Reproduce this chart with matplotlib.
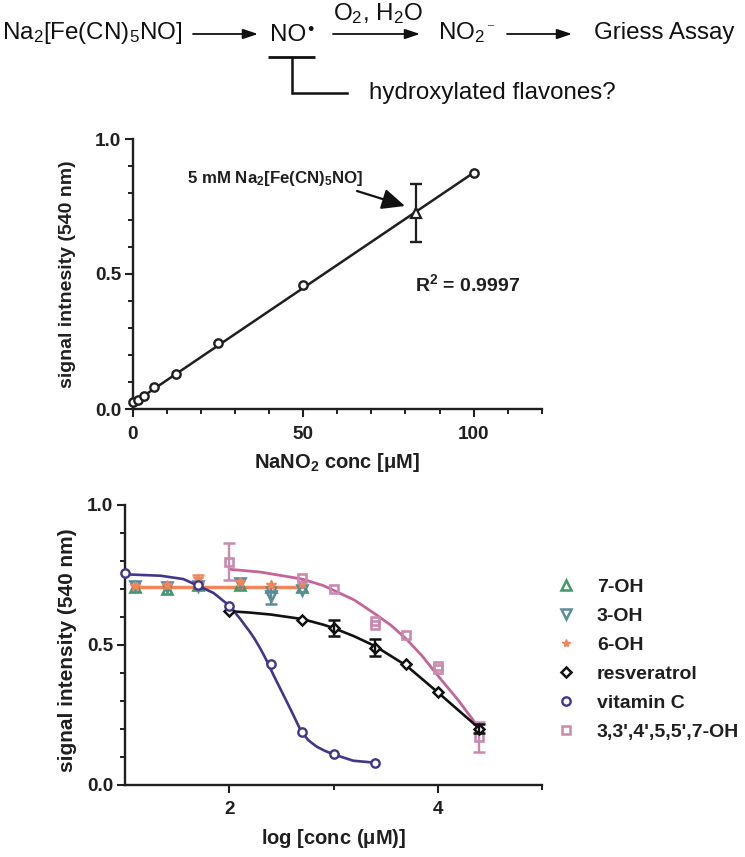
import matplotlib
matplotlib.use("Agg")
import matplotlib.pyplot as plt
from matplotlib.ticker import MultipleLocator
from matplotlib.lines import Line2D

plt.rcParams['font.family'] = ['Liberation Sans', 'DejaVu Sans']
plt.rcParams['mathtext.fontset'] = 'custom'
plt.rcParams['mathtext.rm'] = 'Liberation Sans'
plt.rcParams['mathtext.bf'] = 'Liberation Sans:bold'
plt.rcParams['mathtext.default'] = 'regular'

W, H = 745, 857

# ---- calibration chart ----
std_x = [0, 1.56, 3.125, 6.25, 12.5, 25, 50, 100]
std_y = [0.025, 0.035, 0.05, 0.08, 0.13, 0.245, 0.46, 0.875]
fit_x = [0, 100]
fit_y = [0.022, 0.875]
sample_x = [83]
sample_y = [0.727]
sample_err = [0.107]

# ---- inhibition chart ----
oh7_x = [1.1, 1.4, 1.7, 2.1, 2.4, 2.7]
oh7_y = [0.705, 0.70, 0.715, 0.715, 0.705, 0.705]
oh3_x = [1.1, 1.4, 1.7, 2.1, 2.4, 2.7]
oh3_y = [0.71, 0.705, 0.71, 0.72, 0.675, 0.695]
oh3_err = [0, 0, 0, 0, 0.03, 0]
oh6_x = [1.1, 1.4, 1.7, 2.1, 2.4, 2.7]
oh6_y = [0.71, 0.715, 0.735, 0.725, 0.715, 0.72]
oh6_err = [0, 0, 0.015, 0, 0, 0]
oh6_line_x = [1.1, 2.7]
oh6_line_y = [0.705, 0.705]

res_x = [2, 2.7, 3, 3.4, 3.7, 4, 4.4]
res_y = [0.62, 0.59, 0.56, 0.49, 0.43, 0.33, 0.20]
res_err = [0, 0, 0.03, 0.03, 0, 0, 0.015]
res_cx = [2, 2.2, 2.4, 2.7, 2.9, 3, 3.2, 3.4, 3.7, 4, 4.2, 4.4]
res_cy = [0.62, 0.615, 0.608, 0.592, 0.572, 0.56, 0.53, 0.495, 0.425, 0.33, 0.265, 0.20]

vit_x = [1, 1.7, 2, 2.4, 2.7, 3, 3.4]
vit_y = [0.755, 0.715, 0.64, 0.432, 0.188, 0.108, 0.078]
vit_cx = [1, 1.34, 1.56, 1.69, 1.85, 2, 2.1, 2.2, 2.25, 2.3, 2.35, 2.42, 2.5, 2.6, 2.69, 2.76, 2.84, 2.92, 3, 3.19, 3.4]
vit_cy = [0.752, 0.747, 0.735, 0.713, 0.685, 0.64, 0.595, 0.545, 0.517, 0.485, 0.45, 0.395, 0.335, 0.26, 0.19, 0.158, 0.135, 0.12, 0.108, 0.085, 0.078]

pink_x = [2, 2.7, 3, 3.4, 3.4, 3.7, 4, 4, 4.4]
pink_y = [0.797, 0.74, 0.70, 0.57, 0.585, 0.535, 0.415, 0.425, 0.17]
pink_err = [0.067, 0, 0, 0, 0, 0, 0, 0, 0.052]
pink_cx = [2, 2.3, 2.7, 2.9, 3, 3.2, 3.4, 3.55, 3.7, 3.85, 4, 4.2, 4.4]
pink_cy = [0.77, 0.76, 0.735, 0.712, 0.695, 0.66, 0.61, 0.57, 0.52, 0.46, 0.39, 0.30, 0.20]

legend_labels = ['7-OH', '3-OH', '6-OH', 'resveratrol', 'vitamin C', "3,3',4',5,5',7-OH"]

GREEN, TEAL, ORANGE = '#3f9a68', '#5b8c9e', '#f0865a'
BLACK, PURPLE, PINK, PINKL = '#111111', '#43358a', '#c98ab0', '#c4659a'
DARK = '#1f1f1f'

fig = plt.figure(figsize=(W / 100, H / 100), dpi=100)


def make_axes(l, r, t, b):
    return fig.add_axes([l / W, 1 - b / H, (r - l) / W, (b - t) / H])


def style(ax):
    for s in ('top', 'right'):
        ax.spines[s].set_visible(False)
    for s in ('left', 'bottom'):
        ax.spines[s].set_linewidth(1.7)
        ax.spines[s].set_color(DARK)
    ax.tick_params(which='major', length=6, width=1.5, color=DARK, labelcolor=DARK,
                   labelsize=13.6)
    ax.tick_params(axis='x', which='major', pad=6)
    ax.tick_params(axis='y', which='major', pad=2.5)
    ax.tick_params(which='minor', length=3.5, width=1.4, color=DARK)
    for t in ax.get_xticklabels() + ax.get_yticklabels():
        t.set_fontweight('bold')
    ax.patch.set_alpha(0)


def with_err(ax, x, y, err, color, zorder):
    """Error bars only for the points that show one in the picture."""
    pts = [(a, b, e) for a, b, e in zip(x, y, err) if e > 0]
    ax.errorbar([p[0] for p in pts], [p[1] for p in pts], yerr=[p[2] for p in pts], fmt='none',
                ecolor=color, elinewidth=1.7, capsize=4, capthick=1.8, zorder=zorder)


# ---- top chart ----
ax1 = make_axes(133, 541.7, 139, 409)
ax1.set_xlim(0, 120)
ax1.set_ylim(0, 1)
ax1.set_xticks([0, 50, 100])
ax1.xaxis.set_minor_locator(MultipleLocator(10))
ax1.set_yticks([0, 0.5, 1.0])
ax1.set_yticklabels(['0.0', '0.5', '1.0'])
ax1.yaxis.set_minor_locator(MultipleLocator(0.1))
style(ax1)
ax1.plot(fit_x, fit_y, color=DARK, lw=1.8, clip_on=False)
ax1.plot(std_x, std_y, 'o', mfc='white', mec=DARK, mew=1.7, ms=6, clip_on=False, zorder=3)
ax1.errorbar(sample_x, sample_y, yerr=sample_err, fmt='none', ecolor=DARK, elinewidth=1.6,
             capsize=4.6, capthick=1.7, zorder=4)
ax1.plot(sample_x, sample_y, '^', mfc='white', mec=DARK, mew=1.6, ms=7, zorder=5)
ax1.set_xlabel(r'NaNO$_{\mathbf{2}}$ conc [$\mu$M]', fontweight='bold', fontsize=14.5,
               color=DARK, labelpad=6)
ax1.set_ylabel('signal intnesity (540 nm)', fontweight='bold', fontsize=14, color=DARK)
ax1.yaxis.set_label_coords((76 - 133) / 408.7, 0.5)

# ---- bottom chart ----
ax2 = make_axes(125, 542, 505, 784.5)
ax2.set_xlim(1, 5)
ax2.set_ylim(0, 1)
ax2.set_xticks([2, 4])
ax2.set_xticks([3, 5], minor=True)
ax2.set_yticks([0, 0.5, 1.0])
ax2.set_yticklabels(['0.0', '0.5', '1.0'])
ax2.yaxis.set_minor_locator(MultipleLocator(0.1))
style(ax2)

ax2.plot(oh6_line_x, oh6_line_y, color=ORANGE, lw=2.5, zorder=2)
ax2.plot(oh7_x, oh7_y, '^', mfc='none', mec=GREEN, mew=1.9, ms=7, zorder=2)
ax2.plot(oh3_x, oh3_y, 'v', mfc='none', mec=TEAL, mew=1.9, ms=7, zorder=2)
with_err(ax2, oh3_x, oh3_y, oh3_err, TEAL, 2)
ax2.plot(oh6_x, oh6_y, '*', mfc=ORANGE, mec=ORANGE, ms=7, zorder=3)
with_err(ax2, oh6_x, oh6_y, oh6_err, ORANGE, 3)
ax2.plot(pink_cx, pink_cy, color=PINKL, lw=2, zorder=3)
ax2.plot(pink_x, pink_y, 's', mfc='none', mec=PINK, mew=1.9, ms=6, zorder=3)
with_err(ax2, pink_x, pink_y, pink_err, PINK, 3)
ax2.plot(res_cx, res_cy, color=BLACK, lw=1.9, zorder=4)
ax2.plot(res_x, res_y, 'D', mfc='white', mec=BLACK, mew=1.8, ms=5, zorder=5)
with_err(ax2, res_x, res_y, res_err, BLACK, 5)
ax2.plot(vit_cx, vit_cy, color=PURPLE, lw=1.9, zorder=4, clip_on=False)
ax2.plot(vit_x, vit_y, 'o', mfc='white', mec=PURPLE, mew=1.7, ms=6, zorder=5, clip_on=False)
ax2.set_xlabel(r'log [conc ($\mu$M)]', fontweight='bold', fontsize=14.5, color=DARK, labelpad=6)
ax2.set_ylabel('signal intensity (540 nm)', fontweight='bold', fontsize=15, color=DARK)
ax2.yaxis.set_label_coords((77 - 125) / 417, 0.481)

handles = [
    Line2D([], [], ls='none', marker='^', mfc='none', mec=GREEN, mew=1.8, ms=7),
    Line2D([], [], ls='none', marker='v', mfc='none', mec=TEAL, mew=1.8, ms=7),
    Line2D([], [], ls='none', marker='*', mfc=ORANGE, mec=ORANGE, ms=6),
    Line2D([], [], ls='none', marker='D', mfc='none', mec=BLACK, mew=1.8, ms=5),
    Line2D([], [], ls='none', marker='o', mfc='none', mec=PURPLE, mew=1.7, ms=6),
    Line2D([], [], ls='none', marker='s', mfc='none', mec=PINK, mew=1.8, ms=6),
]
fig.legend(handles, legend_labels, loc='upper left', bbox_to_anchor=(553 / W, 1 - 578.5 / H),
           frameon=False, handlelength=1.3, handletextpad=0.95, labelspacing=0.58,
           borderaxespad=0, borderpad=0, prop=dict(weight='bold', size=14), labelcolor=DARK)

# ---- overlay: reaction scheme and annotations, in pixel coordinates ----
ov = fig.add_axes([0, 0, 1, 1], zorder=10)
ov.set_xlim(0, W)
ov.set_ylim(H, 0)
ov.axis('off')
ov.patch.set_alpha(0)

ts = 17.4
for x, y, s in [(2, 33, r'Na$_2$[Fe(CN)$_5$NO]'), (270, 35, 'NO'), (333, 14, r'O$_2$, H$_2$O'),
                (438, 33, r'NO$_2$'), (594, 33, 'Griess Assay'), (369, 93, 'hydroxylated flavones?')]:
    ov.text(x, y, s, fontsize=ts, va='center', ha='left', color='#111111')
ov.text(310, 30, '•', fontsize=13, va='center', ha='center', color='#111111')
ov.text(491, 25, '–', fontsize=8, va='center', ha='center', color='#333333')
for x0, x1 in [(193, 258), (333, 420), (507, 572)]:
    ov.annotate('', xy=(x1, 34), xytext=(x0, 34),
                arrowprops=dict(arrowstyle='-|>,head_length=0.9,head_width=0.3', color='#111111', lw=1.3,
                                shrinkA=0, shrinkB=0))
ov.plot([268, 315], [57, 57], color='#111111', lw=2, solid_capstyle='butt')
ov.plot([292, 292, 347], [58, 93, 93], color='#111111', lw=1.8, solid_joinstyle='miter')

ov.text(187, 178, r'5 mM Na$_{\mathbf{2}}$[Fe(CN)$_{\mathbf{5}}$NO]', fontsize=12.2, fontweight='bold',
        va='center', ha='left', color=DARK)
ov.annotate('', xy=(405, 206), xytext=(357, 191),
            arrowprops=dict(arrowstyle='-|>,head_length=1.0,head_width=0.45', color='#111111', lw=1.6,
                            shrinkA=0, shrinkB=0, mutation_scale=14))
ov.text(415, 284, r'R$^{\mathbf{2}}$ = 0.9997', fontsize=14, fontweight='bold', va='center', ha='left', color=DARK)

fig.savefig('out.png', dpi=100)
